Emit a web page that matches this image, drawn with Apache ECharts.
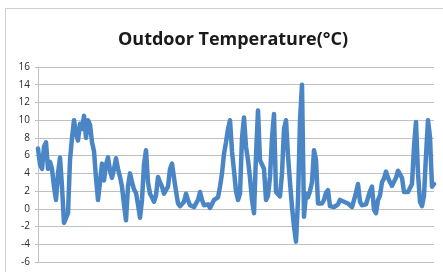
<!DOCTYPE html>
<html>
<head>
<meta charset="UTF-8">
<title>Outdoor Temperature</title>
<style>
  html, body { margin: 0; padding: 0; background: #fff; }
  #chart { width: 443px; height: 272px; }
</style>
</head>
<body>
<div id="chart"></div>
<script src="https://cdn.jsdelivr.net/npm/echarts@6/dist/echarts.min.js"></script>
<script>
// temperature readings left to right
var temps = [
  6.8, 5.0, 4.5, 7.0, 7.5, 4.5, 5.3, 4.5, 2.5, 1.0,
  4.0, 5.8, 2.5, -1.6, -1.6, -0.5, 5.5, 8.0, 10.0, 8.5,
  7.7, 9.6, 9.0, 10.5, 8.0, 10.0, 9.5, 7.5, 6.5, 3.5,
  1.0, 3.0, 5.1, 3.2, 5.0, 5.8, 4.3, 3.5, 4.5, 5.7,
  4.5, 3.6, 2.5, 0.5, -1.3, 2.5, 4.0, 3.0, 2.2, 1.8,
  0.5, -1.0, 1.0, 5.0, 6.6, 3.0, 1.7, 1.3, 0.8, 1.5,
  3.6, 3.0, 2.5, 1.7, 2.1, 2.5, 4.5, 5.1, 3.5, 2.0,
  0.6, 0.3, 0.3, 0.8, 1.7, 1.0, 0.4, 0.4, 0.2, 0.4,
  1.0, 1.9, 1.0, 0.4, 0.6, 0.5, 0.1, -0.1, 1.0, 1.2,
  1.3, 2.5, 4.0, 6.2, 7.5, 9.0, 10.0, 6.5, 4.3, 2.0,
  1.0, 1.7, 8.0, 10.3, 7.0, 5.5, 3.5, 1.0, -0.5, 6.0,
  11.1, 5.5, 5.0, 4.5, 1.0, 1.5, 3.6, 8.0, 10.7, 1.9,
  1.8, 1.4, 4.0, 9.0, 10.0, 6.0, 3.0, 0.2, -2.0, -3.7,
  1.0, 10.0, 14.0, -0.9, 1.7, 1.3, 2.0, 3.0, 6.6, 5.5,
  0.6, 0.5, 0.6, 1.0, 1.8, 2.1, 0.3, 0.2, 0.2, 0.2,
  0.5, 1.0, 1.2, 0.8, 0.6, 0.6, 0.5, 0.2, 0.0, 1.8,
  2.8, 0.8, 0.4, 0.2, 0.5, 0.6, 2.0, 2.5, -0.1, -0.5,
  1.0, 1.5, 3.0, 3.4, 4.2, 3.5, 3.0, 2.6, 2.8, 3.5,
  4.3, 4.2, 3.5, 1.9, 1.9, 1.9, 2.0, 2.8, 7.0, 9.8,
  4.0, 0.8, 0.3, 1.5, 6.0, 10.0, 8.1, 2.5, 2.8
];
var hours = temps.map(function (v, i) { return i + 1; });

var yMin = -6, yMax = 16, yStep = 2;

var myChart = echarts.init(document.getElementById('chart'));
var option = {
    backgroundColor: '#fff',
    animation: false,
    title: {
        text: 'Outdoor Temperature(°C)',
        left: 113,
        top: 26,
        textStyle: {
            fontFamily: 'Open Sans',
            fontSize: 18,
            fontWeight: 'bold',
            color: '#1a1a1a'
        }
    },
    graphic: [{
        type: 'rect',
        shape: { x: 5.5, y: 8.5, width: 460, height: 300 },
        style: { fill: 'none', stroke: '#d0d0d0', lineWidth: 1 },
        silent: true
    }],
    grid: { left: 38, right: 9, top: 67, bottom: 10 },
    xAxis: {
        type: 'category',
        data: hours,
        boundaryGap: false,
        axisLine: { show: false },
        axisTick: { show: false },
        axisLabel: { show: false },
        splitLine: { show: false }
    },
    yAxis: {
        type: 'value',
        min: yMin,
        max: yMax,
        interval: yStep,
        axisLine: { show: true, lineStyle: { color: '#c0c0c0' } },
        axisTick: { show: true, length: 3, lineStyle: { color: '#c0c0c0' } },
        axisLabel: {
            margin: 8,
            fontFamily: 'Open Sans',
            fontSize: 10,
            color: '#2a2a2a'
        },
        splitLine: { show: true, lineStyle: { color: '#c0c0c0', width: 1 } }
    },
    series: [{
        name: 'Outdoor Temperature',
        type: 'line',
        data: temps,
        symbol: 'none',
        smooth: false,
        lineStyle: { color: '#4a86c5', width: 4.5, join: 'round', cap: 'round' }
    }]
};
myChart.setOption(option);
</script>
</body>
</html>
